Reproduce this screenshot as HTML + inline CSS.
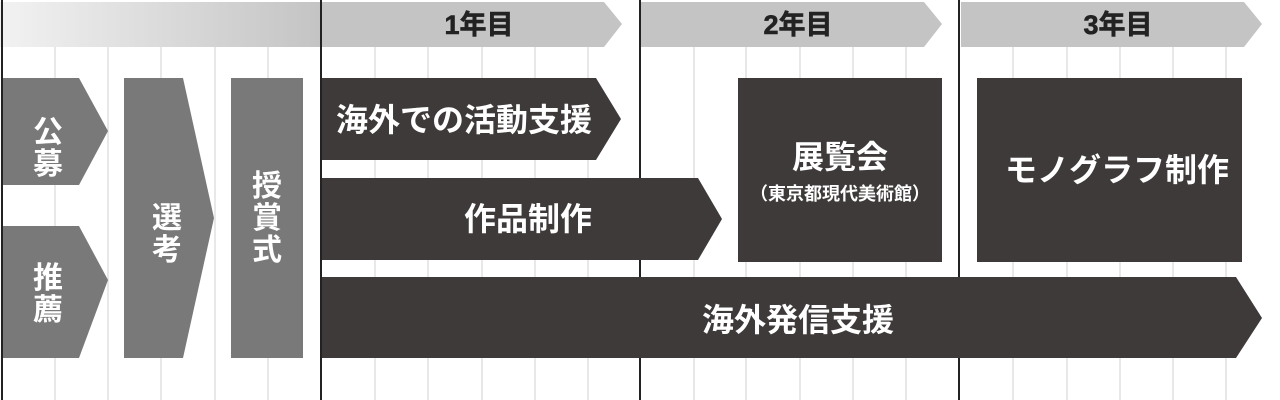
<!DOCTYPE html>
<html><head><meta charset="utf-8"><style>
html,body{margin:0;padding:0;background:#fff;}
body{width:1280px;height:400px;overflow:hidden;position:relative;font-family:"Liberation Sans","Noto Sans CJK JP",sans-serif;}
svg{position:absolute;left:0;top:0;}
text{font-family:"Liberation Sans","Noto Sans CJK JP",sans-serif;font-weight:bold;}
</style></head><body>
<svg width="1280" height="400" viewBox="0 0 1280 400">
<defs><linearGradient id="g" x1="0" x2="1"><stop offset="0" stop-color="#f2f2f2"/><stop offset="1" stop-color="#c4c4c4"/></linearGradient></defs>
<g stroke="#d0d0d0" stroke-width="1">
<line x1="55" y1="47" x2="55" y2="400"/><line x1="108" y1="47" x2="108" y2="400"/><line x1="161" y1="47" x2="161" y2="400"/><line x1="215" y1="47" x2="215" y2="400"/><line x1="268" y1="47" x2="268" y2="400"/>
<line x1="375" y1="47" x2="375" y2="400"/><line x1="428" y1="47" x2="428" y2="400"/><line x1="482" y1="47" x2="482" y2="400"/><line x1="535" y1="47" x2="535" y2="400"/><line x1="588" y1="47" x2="588" y2="400"/>
<line x1="694" y1="47" x2="694" y2="400"/><line x1="746" y1="47" x2="746" y2="400"/><line x1="800" y1="47" x2="800" y2="400"/><line x1="853" y1="47" x2="853" y2="400"/><line x1="906" y1="47" x2="906" y2="400"/>
<line x1="1013" y1="47" x2="1013" y2="400"/><line x1="1067" y1="47" x2="1067" y2="400"/><line x1="1120" y1="47" x2="1120" y2="400"/><line x1="1173" y1="47" x2="1173" y2="400"/><line x1="1226" y1="47" x2="1226" y2="400"/>
</g>
<rect x="0" y="2" width="320" height="45" fill="url(#g)"/>
<polygon points="322,2 604,2 622,24 604,47 322,47" fill="#c4c4c4"/>
<polygon points="641,2 924,2 942,24 924,47 641,47" fill="#c4c4c4"/>
<polygon points="961,2 1244,2 1262,24 1244,47 961,47" fill="#c4c4c4"/>
<g stroke="#222" stroke-width="2">
<line x1="2" y1="0" x2="2" y2="400"/><line x1="321" y1="0" x2="321" y2="400"/><line x1="640" y1="0" x2="640" y2="400"/><line x1="959" y1="0" x2="959" y2="400"/>
</g>
<g fill="#222" font-size="27" text-anchor="middle" style="font-weight:normal" stroke="#222" stroke-width="0.6">
<text x="479" y="34">1年目</text><text x="798" y="34">2年目</text><text x="1118" y="34">3年目</text>
</g>
<g fill="#7a797a">
<polygon points="3,78 79,78 108,131 79,185 3,185"/>
<polygon points="3,226 79,226 108,280 79,358 3,358"/>
<polygon points="124,78 183,78 214,218 183,358 124,358"/>
<rect x="231" y="78" width="72" height="280"/>
</g>
<g fill="#3e3a39">
<polygon points="322,78 596,78 621,119 596,160 322,160"/>
<polygon points="322,178 698,178 722,219 698,260 322,260"/>
<polygon points="322,277 1236,277 1262,318 1236,358 322,358"/>
<rect x="738" y="78" width="204" height="184"/>
<rect x="977" y="78" width="265" height="184"/>
</g>
<g fill="#fff" font-size="30" text-anchor="middle">
<text x="48" y="142">公</text><text x="48" y="174">募</text>
<text x="48" y="288">推</text><text x="48" y="320">薦</text>
<text x="167" y="228">選</text><text x="167" y="260">考</text>
<text x="267" y="196">授</text><text x="267" y="228">賞</text><text x="267" y="260">式</text>
</g>
<g fill="#fff" font-size="32" text-anchor="middle">
<text x="464" y="131">海外での活動支援</text>
<text x="528" y="230">作品制作</text>
<text x="798" y="331">海外発信支援</text>
<text x="840" y="168">展覧会</text>
<text x="1117" y="181">モノグラフ制作</text>
<text x="840" y="200" font-size="18" font-weight="normal">（東京都現代美術館）</text>
</g>
</svg>
</body></html>
